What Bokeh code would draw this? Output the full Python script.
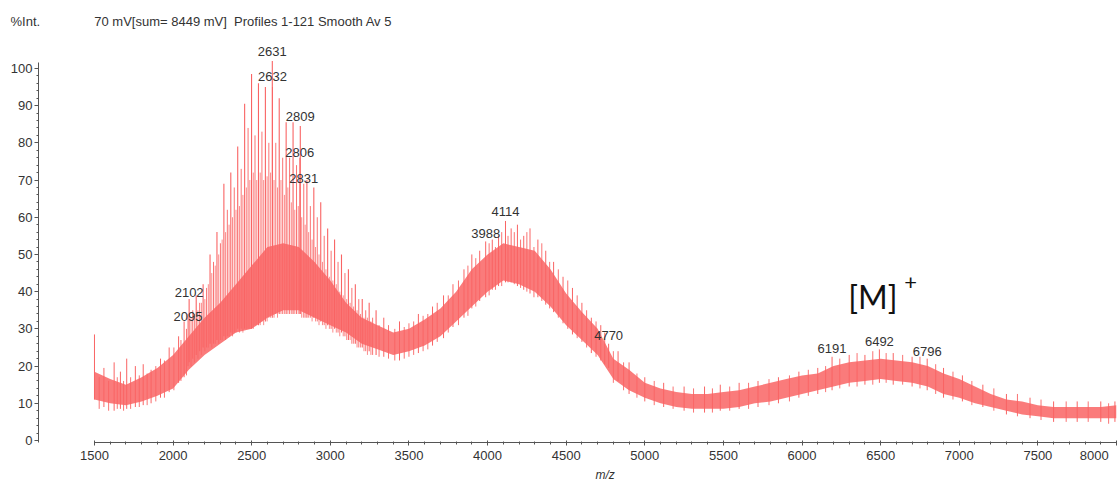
from bokeh.plotting import figure
from bokeh.models import Range1d, Label, ColumnDataSource, FixedTicker, Title
from bokeh.core.properties import value
from bokeh.embed import file_html
from bokeh.resources import INLINE

# ---- spectrum data (m/z vs relative intensity, %) ----

# noise band of the trace: lower / upper edge every 100 m/z
env_mz = [1500, 1600, 1700, 1800, 1900, 2000, 2100, 2200, 2300, 2400, 2500,
          2600, 2700, 2800, 2900, 3000, 3100, 3200, 3300, 3400, 3500, 3600,
          3700, 3800, 3900, 4000, 4100, 4200, 4300, 4400, 4500, 4600, 4700,
          4800, 4900, 5000, 5100, 5200, 5300, 5400, 5500, 5600, 5700, 5800,
          5900, 6000, 6100, 6200, 6300, 6400, 6500, 6600, 6700, 6800, 6900,
          7000, 7100, 7200, 7300, 7400, 7500, 7600, 7700, 7800, 7900, 8000]
env_low = [11, 10, 9.5, 10.5, 12, 14, 19, 23, 26, 29, 30,
           33, 35, 35, 33, 31, 29, 26, 24.5, 23, 24, 25.5,
           28, 32, 36, 40, 43, 42, 40, 36, 31, 27, 23,
           16.5, 13.5, 11.5, 10, 9, 8.5, 8.5, 8.5, 9, 10, 10.5,
           11.5, 12.5, 13.5, 14.5, 15.5, 16, 16.5, 16, 15.5, 14.5, 12.5,
           11.5, 10, 9, 8, 7, 6.5, 6, 6, 6, 6, 6]
env_high = [18.5, 16.5, 15, 17, 19.5, 23, 28, 33, 37, 42, 47,
            52, 53, 52, 48, 43, 37, 33, 31, 29, 30, 32.5,
            35.5, 40, 46, 50, 53, 52, 51, 46, 39.5, 34.5, 30,
            22, 19, 15.5, 14, 13, 12.5, 12.5, 13, 13.5, 14.5, 15.5,
            16.5, 17.5, 18, 20, 21, 21.5, 22, 21.5, 21, 20, 18,
            16.5, 14.5, 12.5, 11, 10.5, 9.5, 9, 9, 9, 9, 9.5]

# oligomer series (44 Da spacing) in the low-mass envelope
series_a_mz = [2102, 2147, 2191, 2235, 2279, 2323, 2367, 2411, 2455, 2499,
               2543, 2587, 2631, 2675, 2719, 2763, 2809, 2851, 2895, 2939,
               2983, 3027, 3071, 3115, 3159, 3203, 3247, 3291]
series_a_top = [38, 39, 42, 50, 56, 69, 72, 79, 90.5, 98.5,
                96, 95, 102, 92, 85.5, 85.5, 84.5, 70, 68, 64,
                57, 54, 50, 46, 42, 38, 37, 35]
series_a_base = [21, 23, 25, 26, 27, 28, 29, 30, 30, 30,
                 31, 32, 33, 34, 34, 34, 34, 33, 33, 32,
                 31, 30, 29, 27, 26, 25, 24, 23]

series_b_mz = [2095, 2125, 2169, 2213, 2257, 2301, 2345, 2389, 2433, 2477,
               2521, 2565, 2609, 2632, 2653, 2697, 2741, 2785, 2806, 2831,
               2873, 2917, 2961, 3005, 3049, 3093, 3137, 3181, 3225, 3269]
series_b_top = [34, 35, 37, 41, 48, 53, 62, 68, 73, 84,
                82, 83, 80, 95, 80, 76, 76, 74, 76, 69,
                63, 60, 55, 51, 48, 45, 41, 38, 35, 33]
series_b_base = [20, 22, 24, 25, 26, 27, 28, 29, 30, 30,
                 31, 32, 33, 34, 34, 34, 34, 34, 34, 33,
                 33, 32, 31, 30, 29, 28, 26, 25, 24, 23]

# weaker satellite peaks between the two series
series_c_mz = [2114, 2136, 2158, 2180, 2202, 2224, 2246, 2268, 2290, 2312,
               2334, 2356, 2378, 2400, 2422, 2444, 2466, 2488, 2510, 2532,
               2554, 2576, 2598, 2620, 2642, 2664, 2686, 2708, 2730, 2752,
               2774, 2796, 2818, 2840, 2862, 2884, 2906, 2928, 2950, 2972,
               2994, 3016, 3038, 3060, 3082, 3104, 3126, 3148, 3170, 3192,
               3214, 3236, 3258]
series_c_top = [33, 34, 35, 37, 38, 42, 45, 47, 50, 54,
                56, 58, 60, 62, 63, 66, 68, 70, 72, 70,
                72, 70, 71, 72, 70, 68, 70, 66, 68, 64,
                62, 63, 60, 58, 56, 54, 52, 50, 48, 46,
                44, 43, 42, 40, 39, 38, 37, 36, 35, 34,
                33, 33, 32]
series_c_base = [20, 21, 22, 23, 24, 25, 25, 26, 26, 27,
                 27, 28, 28, 29, 29, 29, 30, 30, 30, 31,
                 31, 31, 32, 33, 33, 33, 34, 34, 34, 34,
                 34, 34, 33, 33, 33, 32, 32, 31, 31, 30,
                 30, 29, 29, 28, 28, 27, 27, 26, 25, 25,
                 24, 23, 23]

# isolated noise spikes rising from the band
spike_mz = [1500, 1560, 1625, 1665, 1705, 1760, 1810, 1860, 1920, 1975, 2035, 2070,
            3340, 3440, 3560, 3650, 3720, 3780, 3850, 3900, 3950, 3988, 4030, 4070,
            4114, 4150, 4190, 4230, 4270, 4320, 4370, 4420, 4480, 4540, 4600, 4660,
            4720, 4770, 4830, 4900, 5000, 5120, 5250, 5380, 5480, 5600, 5720, 5850,
            5980, 6100, 6191, 6300, 6400, 6492, 6580, 6700, 6796, 6900, 7020, 7150,
            7300, 7450, 7600, 7750, 7900, 7990]
spike_top = [28.5, 19.5, 21, 18.5, 22, 20, 20.5, 19, 22, 25, 28, 32,
             33, 32, 34, 36, 39, 42, 46, 50, 51, 53.5, 54, 55,
             59, 57, 58, 55, 57, 54, 51, 48, 44, 41, 37, 33,
             31, 26, 24, 21, 17, 15.5, 14.5, 14.5, 15, 15.5, 16, 17,
             18.5, 19.5, 22.5, 23, 23, 24.5, 23.5, 22.5, 22, 19.5, 17.5, 15,
             12.5, 11.5, 10.5, 10.5, 10.5, 10.5]
spike_base = [11, 9, 8, 8.5, 8.5, 9, 9.5, 10, 11.5, 13, 15.5, 17,
              22.5, 21.5, 23.5, 25.5, 27.5, 30.5, 33, 35.5, 37.5, 38.5, 40.5, 41.5,
              42.5, 42.5, 41.5, 40.5, 39.5, 38.5, 36.5, 34.5, 31.5, 28.5, 26.5, 23.5,
              21.5, 19.5, 16, 12.5, 10.5, 9, 8, 7.5, 8, 8.5, 9, 10,
              11.5, 12.5, 13.5, 14.5, 15, 15.5, 15, 14.5, 13.5, 11.5, 10.5, 9,
              7, 6, 5, 5, 5, 5]

# finer noise between the spikes above
noise_mz = [1530, 1590, 1645, 1685, 1730, 1785, 1835, 1890, 1945, 2005, 2050, 2085,
            3310, 3370, 3410, 3470, 3500, 3530, 3590, 3620, 3680, 3750, 3815, 3875,
            3925, 4010, 4050, 4090, 4130, 4170, 4210, 4250, 4295, 4345, 4395, 4450,
            4510, 4570, 4630, 4690, 4745, 4800, 4865, 4950, 5060, 5180, 5310, 5430,
            5540, 5660, 5790, 5920, 6040, 6150, 6240, 6350, 6450, 6535, 6640, 6750,
            6850, 6960, 7080, 7220, 7370, 7520, 7680, 7820, 7950]
noise_top = [17, 16, 17, 16, 17, 17.5, 18, 20, 21.5, 25, 27, 30,
             31, 31, 30, 30.5, 31.5, 32, 33.5, 34, 37, 39, 43, 47,
             49, 53, 52, 56, 55, 56, 54, 56, 52, 53, 48, 46,
             43, 39, 35, 32, 29, 24, 21, 18, 16, 14.5, 14, 14,
             14.5, 15.5, 16.5, 17.5, 19, 20, 22, 23.5, 24, 23.5, 23, 22.5,
             20.5, 18.5, 16, 14, 12.5, 11, 10.5, 10.5, 10]
noise_base = [8.5, 8, 8.5, 8, 8.5, 9, 9.5, 10.5, 11.5, 13.5, 16, 17.5,
              22.5, 22, 21.5, 22, 22.5, 23, 24, 24.5, 26.5, 29, 31, 33.5,
              36, 39, 40.5, 41.5, 42.5, 42, 41, 40, 38.5, 37.5, 35.5, 33,
              30, 27.5, 25, 22.5, 20.5, 15.5, 13.5, 11.5, 9.5, 8.5, 7.5, 7.5,
              8, 8.5, 9.5, 10.5, 12, 13, 14, 14.5, 15, 15.5, 15, 14,
              12.5, 11, 9.5, 8, 6.5, 5.5, 5, 5, 4.5]

# annotated peaks
peak_labels = [2631, 2632, 2809, 2806, 2831, 2102, 2095,
               4114, 3988, 4770, 6191, 6492, 6796]

x_ticks = [1500, 2000, 2500, 3000, 3500, 4000, 4500,
           5000, 5500, 6000, 6500, 7000, 7500, 8000]
y_ticks = [0, 10, 20, 30, 40, 50, 60, 70, 80, 90, 100]

y_title = "%Int."
header_left = "70 mV[sum= 8449 mV]"
header_right = "Profiles 1-121 Smooth Av 5"

# ---- layout / style ----
FONT = "Liberation Sans"
TEXT = "#333333"
TRACE = "#f96464"
NBSP = "\u00a0"
# stacked label heights (text centre), same order as peak_labels
label_height = [104.6, 97.8, 87.1, 77.4, 70.4, 39.8, 33.3,
                61.6, 55.6, 28.2, 24.7, 26.6, 24.0]

p = figure(width=1119, height=481,
           x_range=Range1d(1144, 8000), y_range=Range1d(-0.54, 107.5),
           output_backend="svg", toolbar_location=None,
           min_border_left=38, min_border_right=3,
           min_border_top=40, min_border_bottom=39)
p.outline_line_color = None
p.xgrid.visible = False
p.ygrid.visible = False
p.background_fill_color = "white"
p.border_fill_color = "white"

# noise band
p.varea(x=env_mz, y1=env_low, y2=env_high,
        fill_color=TRACE, fill_alpha=0.85)

# oligomer peaks and noise spikes
p.segment(x0=series_c_mz, y0=series_c_base, x1=series_c_mz, y1=series_c_top,
          line_color=TRACE, line_width=1, line_alpha=0.75)
p.segment(x0=series_b_mz, y0=series_b_base, x1=series_b_mz, y1=series_b_top,
          line_color=TRACE, line_width=1, line_alpha=0.9)
p.segment(x0=series_a_mz, y0=series_a_base, x1=series_a_mz, y1=series_a_top,
          line_color=TRACE, line_width=1.1)
p.segment(x0=noise_mz, y0=noise_base, x1=noise_mz, y1=noise_top,
          line_color=TRACE, line_width=1, line_alpha=0.9)
p.segment(x0=spike_mz, y0=spike_base, x1=spike_mz, y1=spike_top,
          line_color=TRACE, line_width=1)

# peak annotations
lab_src = ColumnDataSource(dict(x=peak_labels, y=label_height,
                                t=[str(v) for v in peak_labels]))
p.text(x="x", y="y", text="t", source=lab_src,
       text_align="center", text_baseline="middle",
       text_font=value(FONT), text_font_size="13px", text_color=TEXT)

# molecular ion marker
p.add_layout(Label(x=6294, y=38.7, text="[M]", text_font="Lato",
                   text_font_size="32px", text_color="#111111",
                   text_align="left", text_baseline="middle"))
p.add_layout(Label(x=6650, y=42.5, text="+", text_font="Lato",
                   text_font_size="22px", text_color="#111111",
                   text_align="left", text_baseline="middle"))

# x axis
xa = p.xaxis[0]
xa.ticker = FixedTicker(ticks=x_ticks,
                        minor_ticks=list(range(1500, 8001, 100)))
xa.bounds = (1500, 8000)
# last label kept inside the canvas
xa.major_label_overrides = {8000: "8000" + NBSP * 3}
xa.major_label_text_font = FONT
xa.major_label_text_font_size = "13px"
xa.major_label_text_color = TEXT
xa.major_label_standoff = 2
xa.axis_line_color = "#555555"
xa.major_tick_line_color = "#555555"
xa.minor_tick_line_color = "#555555"
xa.major_tick_in = 2
xa.major_tick_out = 3
xa.minor_tick_in = 1
xa.minor_tick_out = 2

# y axis
ya = p.yaxis[0]
ya.ticker = FixedTicker(ticks=y_ticks, minor_ticks=list(range(0, 101, 2)))
ya.bounds = (-0.6, 101.5)
ya.major_label_text_font = FONT
ya.major_label_text_font_size = "13px"
ya.major_label_text_color = TEXT
ya.major_label_standoff = 2
ya.axis_line_color = "#555555"
ya.major_tick_line_color = "#555555"
ya.minor_tick_line_color = "#555555"
ya.major_tick_in = 0
ya.major_tick_out = 4
ya.minor_tick_in = 0
ya.minor_tick_out = 2

# header line above the frame and m/z caption below the axis
p.add_layout(Title(text=y_title + NBSP * 15 + header_left + " " + NBSP
                   + header_right, align="left",
                   offset=-28, standoff=23, text_font=FONT,
                   text_font_size="13px", text_font_style="normal",
                   text_color=TEXT), "above")
p.add_layout(Title(text="m/z", align="left", offset=557, standoff=0,
                   text_font=FONT, text_font_size="12px",
                   text_font_style="italic", text_color=TEXT), "below")

open("out.html", "w").write(file_html(p, INLINE))
